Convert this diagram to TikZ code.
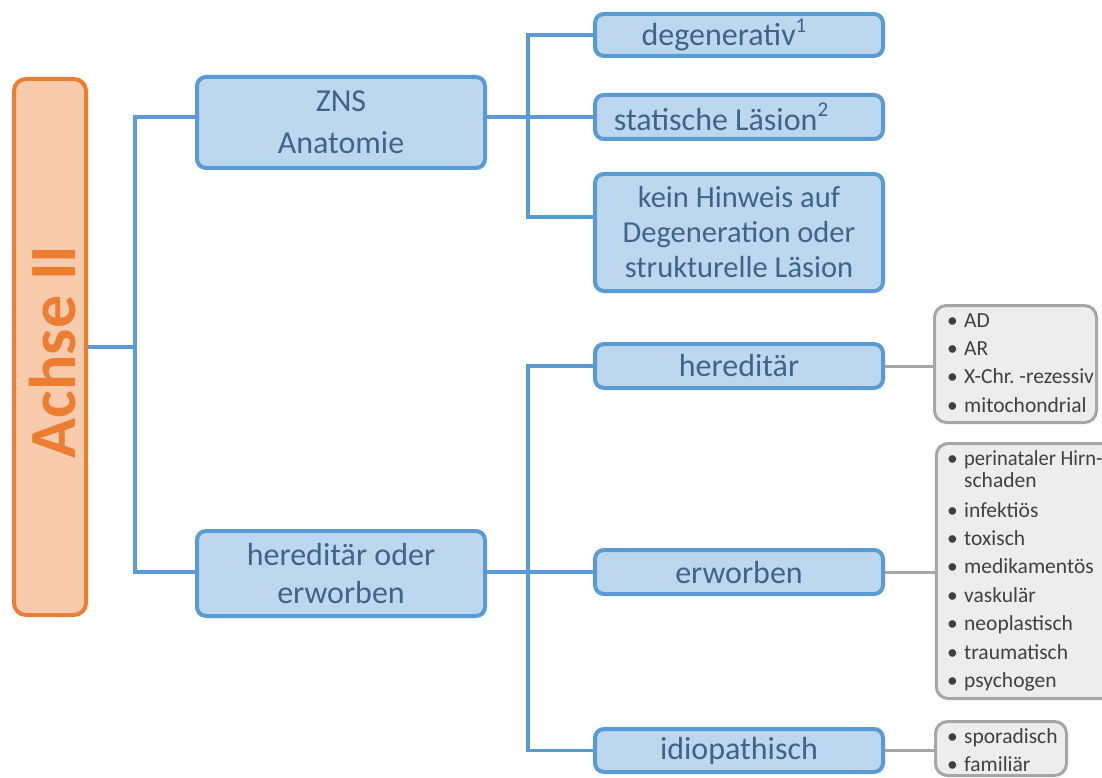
\documentclass[tikz,border=0pt]{standalone}
\usepackage{fontspec}
\usepackage{graphicx}
\setmainfont{Carlito}
\usetikzlibrary{backgrounds}
\definecolor{bfill}{HTML}{BDD7EE}
\definecolor{bline}{HTML}{5B9BD5}
\definecolor{btext}{HTML}{3F648A}
\definecolor{ofill}{HTML}{F8CBAD}
\definecolor{oline}{HTML}{ED7D31}
\definecolor{gfill}{HTML}{EDEDED}
\definecolor{gline}{HTML}{A6A6A6}
\definecolor{gtext}{HTML}{404040}
\newcommand\gbul{\makebox[17pt][l]{\textbullet}}
\newcommand\supnum[1]{\raisebox{0.42em}{\fontsize{21}{21}\selectfont #1}}
\begin{document}
\begin{tikzpicture}[x=1pt,y=-1pt,
  bbox/.style={draw=bline, fill=bfill, line width=4pt, rounded corners=9pt,
    text=btext, align=center, minimum width=288pt, inner sep=0pt},
  abox/.style={draw=oline, fill=ofill, line width=4pt, rounded corners=12pt},
  gbox/.style={draw=gline, fill=gfill, line width=3pt, rounded corners=12pt, inner sep=0pt},
  glist/.style={text=gtext, align=left, anchor=north west, inner sep=0pt,
    font=\fontsize{21.5}{28.4}\selectfont},
  bconn/.style={draw=bline, line width=3.5pt},
  gconn/.style={draw=gline, line width=3pt},
]
\useasboundingbox (0,0) rectangle (1102,778);

% Achse
\node[abox, minimum width=72pt, minimum height=536pt] (achse) at (50,347) {};
\node[rotate=90, text=oline, inner sep=0pt,
  font=\fontsize{66}{66}\selectfont\bfseries] (achseT) at ([xshift=3pt,yshift=-5pt]achse.center) {Achse II};

% level 1
\node[bbox, minimum height=91pt, font=\fontsize{32}{42}\selectfont] (zns) at (341,122.5) {ZNS\\Anatomie};
\node[bbox, minimum height=85pt, font=\fontsize{32}{38}\selectfont] (hoe) at (341,573.5) {hereditär oder\\erworben};

% level 2 top
\node[bbox, minimum height=42pt, font=\fontsize{32}{38}\selectfont] (deg) at (739,35) {degenerativ\supnum{1}\hspace*{30pt}};
\node[bbox, minimum height=44pt, font=\fontsize{32}{38}\selectfont] (stat) at (739,117) {statische Läsion\supnum{2}\hspace*{36pt}};
\node[bbox, minimum height=117pt, font=\fontsize{30.5}{35}\selectfont] (kein) at (739,232.5) {kein Hinweis auf\\Degeneration oder\\strukturelle Läsion};

% level 2 bottom
\node[bbox, minimum height=44pt, font=\fontsize{32}{38}\selectfont] (hered) at (739,366) {hereditär};
\node[bbox, minimum height=44pt, font=\fontsize{32}{38}\selectfont] (erw) at (739,572) {erworben};
\node[bbox, minimum height=43pt, font=\fontsize{32}{38}\selectfont] (idio) at (739,750.5) {idiopathisch};

% gray boxes
\node[gbox, minimum width=162pt, minimum height=117pt] (g1) at (1015.5,364) {};
\node[gbox, minimum width=193.5pt, minimum height=255pt] (g2) at (1033,571) {};
\node[gbox, minimum width=131pt, minimum height=54pt] (g3) at (1001,748.5) {};

\node[glist] (g1T) at (947,307.1) {\strut\gbul AD\\\gbul AR\\\gbul X-Chr.\ -rezessiv\\\gbul mitochondrial};
\node[glist] (g2T) at (947,445.1) {\strut\gbul \scalebox{0.955}[1]{perinataler Hirn-}\\[-6.4pt]\hspace*{17pt}schaden\\[1.6pt]\gbul infektiös\\\gbul toxisch\\\gbul medikamentös\\\gbul vaskulär\\\gbul neoplastisch\\\gbul traumatisch\\\gbul psychogen};
\node[glist] (g3T) at (947,723.1) {\strut\gbul sporadisch\\\gbul familiär};

\begin{scope}[on background layer]
  \fill[white] (0,0) rectangle (1102,778);
  \coordinate (t1) at (135,347);
  \coordinate (j1) at (528,117);
  \coordinate (j2) at (528,572);
  \draw[bconn] (achse.east) -- (t1);
  \draw[bconn] (zns.west |- j1) -| (t1) |- (hoe.west |- j2);
  \draw[bconn] (zns.east |- j1) -- (stat.west |- j1);
  \draw[bconn] (deg.west) -| (j1) |- ([yshift=15.5pt]kein.west);
  \draw[bconn] (hoe.east |- j2) -- (erw.west |- j2);
  \draw[bconn] (hered.west) -| (j2) |- (idio.west);
  \draw[gconn] (hered.east) -- (hered.east -| g1.west);
  \draw[gconn] (erw.east) -- (erw.east -| g2.west);
  \draw[gconn] (idio.east) -- (idio.east -| g3.west);
\end{scope}
\end{tikzpicture}
\end{document}
